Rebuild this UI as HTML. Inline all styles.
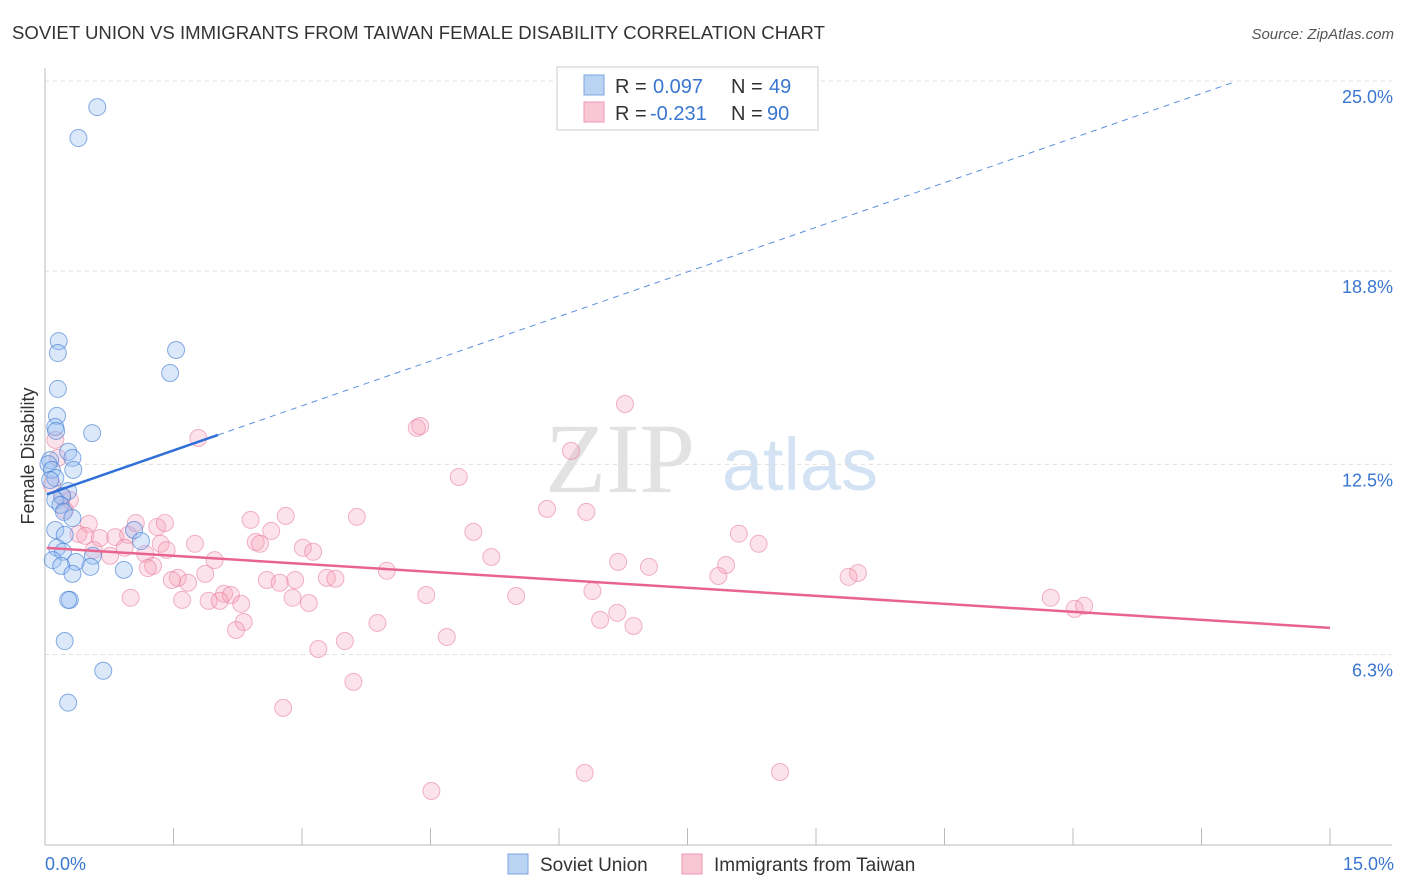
<!DOCTYPE html>
<html><head><meta charset="utf-8"><style>
body{margin:0;background:#fff;font-family:"Liberation Sans",sans-serif;}
svg{display:block}
</style></head><body>
<svg id="c" width="1406" height="892">
<text x="12" y="39" font-size="18" fill="#333" textLength="813" lengthAdjust="spacingAndGlyphs">SOVIET UNION VS IMMIGRANTS FROM TAIWAN FEMALE DISABILITY CORRELATION CHART</text>
<text x="1394" y="39" font-size="15" fill="#555" text-anchor="end" font-style="italic">Source: ZipAtlas.com</text>
<text x="0" y="0" transform="translate(34,456) rotate(-90)" font-size="18" fill="#333" text-anchor="middle">Female Disability</text>
<text x="620" y="492" font-size="100" fill="#e2e2e2" font-family="Liberation Serif,serif" text-anchor="middle">ZIP</text>
<text x="800" y="490" font-size="74" fill="#d3e3f4" text-anchor="middle">atlas</text>
<g id="grid"></g><g id="axes"></g><g id="pts"></g><g id="trend"></g>
<g>
<rect x="557" y="67" width="261" height="63" fill="#fff" stroke="#ccc"/>
<rect x="584" y="75" width="20" height="20" fill="#b9d3f3" stroke="#7aa6df"/>
<text x="615" y="93" font-size="20" fill="#333">R =</text>
<text x="653" y="93" font-size="20" fill="#3a76d0">0.097</text>
<text x="731" y="93" font-size="20" fill="#333">N =</text>
<text x="769" y="93" font-size="20" fill="#3a76d0">49</text>
<rect x="584" y="102" width="20" height="20" fill="#f8c6d5" stroke="#ee9ab2"/>
<text x="615" y="120" font-size="20" fill="#333">R =</text>
<text x="650" y="120" font-size="20" fill="#3a76d0">-0.231</text>
<text x="731" y="120" font-size="20" fill="#333">N =</text>
<text x="767" y="120" font-size="20" fill="#3a76d0">90</text>
</g>
<g><rect x="508" y="854" width="20" height="20" fill="#b9d3f3" stroke="#7aa6df"/><text x="540" y="871" font-size="19" fill="#333">Soviet Union</text></g>
<g><rect x="682" y="854" width="20" height="20" fill="#f8c6d5" stroke="#ee9ab2"/><text x="714" y="871" font-size="19" fill="#333">Immigrants from Taiwan</text></g>
</svg>
<script>
const yTicks=[25.0,18.8,12.5,6.3];
const yTickLabels=["25.0%","18.8%","12.5%","6.3%"];
const xEndLabels=["0.0%","15.0%"];
const sovietX=[.61,.39,.16,.15,1.53,1.46,.15,.14,.12,.13,.55,.27,.32,.06,.04,.08,.33,.12,.06,.27,.2,.12,.18,.22,.32,.12,.23,1.04,1.12,.14,.21,.56,.09,.36,.19,.53,.92,.32,.29,.27,.23,.68,.27];
const sovietY=[24.15,23.14,16.52,16.13,16.23,15.48,14.96,14.08,13.72,13.59,13.52,12.91,12.71,12.64,12.51,12.32,12.32,12.06,11.99,11.63,11.47,11.34,11.18,10.95,10.75,10.36,10.2,10.36,10.0,9.78,9.65,9.52,9.38,9.32,9.19,9.16,9.06,8.93,8.08,8.08,6.74,5.77,4.73];
const taiwanX=[1.79,6.77,4.34,4.38,6.14,4.83,5.86,6.32,3.64,2.81,2.40,2.64,5.0,8.10,8.33,3.01,3.13,5.21,2.46,2.51,6.69,7.05,7.95,7.86,3.99,3.29,3.39,2.92,2.59,2.74,1.87,1.55,1.48,1.67,9.49,9.38,4.45,5.50,6.39,11.74,12.02,12.13,6.68,6.48,6.87,2.09,2.17,1.91,2.04,2.29,2.89,3.08,1.00,1.60,2.32,2.23,3.88,3.50,3.19,4.69,3.60,2.78,6.30,8.58,4.51,.12,.15,.08,.2,.29,.23,.51,.39,.47,.64,.82,.97,1.06,1.31,1.40,1.35,1.42,1.17,1.75,1.98,.57,.76,1.26,.93,1.20];
const taiwanY=[13.36,14.47,13.69,13.75,12.94,12.09,11.05,10.95,10.79,10.82,10.69,10.33,10.30,10.24,9.91,9.78,9.65,9.48,9.97,9.91,9.32,9.16,9.22,8.86,9.03,8.80,8.77,8.73,8.73,8.64,8.93,8.80,8.73,8.64,8.96,8.83,8.24,8.21,8.37,8.15,7.79,7.89,7.66,7.43,7.23,8.28,8.24,8.05,8.05,7.95,8.15,7.98,8.15,8.08,7.36,7.10,7.33,6.74,6.48,6.87,5.41,4.56,2.44,2.47,1.85,13.3,12.71,11.83,11.44,11.34,11.01,10.56,10.23,10.17,10.10,10.13,10.20,10.59,10.46,10.59,9.91,9.71,9.58,9.91,9.38,9.71,9.52,9.19,9.78,9.12];
const sovietTrend=[11.5,0.97];
const taiwanTrend=[9.78,-0.174];
const NS="http://www.w3.org/2000/svg";
const sx=v=>45+v/15*1285;
const sy=v=>81+(25-v)*30.67;
function mk(tag,attrs,parent){const e=document.createElementNS(NS,tag);for(const k in attrs)e.setAttribute(k,attrs[k]);document.getElementById(parent).appendChild(e);return e;}
yTicks.forEach((t,i)=>{
 const g=mk('line',{x1:45,x2:1392,y1:sy(t),y2:sy(t),stroke:'#e0e0e0','stroke-dasharray':'4,4'},'grid');
 
 
 const l=mk('text',{x:1393,y:sy(t)+22,'font-size':18,fill:'#3a76d0','text-anchor':'end'},'grid');
 l.textContent=yTickLabels[i];
 
 
});
let a=mk('line',{x1:45,x2:45,y1:68,y2:845,stroke:'#bbb'},'axes');


a=mk('line',{x1:45,x2:1392,y1:845,y2:845,stroke:'#bbb'},'axes');


for(let i=1;i<=10;i++){const t=mk('line',{x1:sx(i*1.5),x2:sx(i*1.5),y1:828,y2:845,stroke:'#bbb'},'axes');
 
 }
[[0,'start',45],[15,'end',1394]].forEach((d,i)=>{const t=mk('text',{x:d[2],y:870,'font-size':18,fill:'#3a76d0','text-anchor':d[1]},'axes');t.textContent=xEndLabels[i];
 
 });
taiwanX.forEach((x,i)=>{const c=mk('circle',{cx:sx(x),cy:sy(taiwanY[i]),r:8.5,fill:'rgba(244,160,185,0.3)',stroke:'rgba(232,120,155,0.55)'},'pts');
 
 });
sovietX.forEach((x,i)=>{const c=mk('circle',{cx:sx(x),cy:sy(sovietY[i]),r:8.5,fill:'rgba(150,190,240,0.35)',stroke:'rgba(60,120,210,0.6)'},'pts');
 
 });
const sv=x=>sovietTrend[0]+sovietTrend[1]*x;
let t=mk('line',{x1:sx(0.02),y1:sy(sv(0.02)),x2:sx(2.02),y2:sy(sv(2.02)),stroke:'#2f6fd6','stroke-width':2.5},'trend');


t=mk('line',{x1:sx(2.02),y1:sy(sv(2.02)),x2:sx(13.9),y2:sy(sv(13.9)),stroke:'#5a8fdc','stroke-width':1,'stroke-dasharray':'6,5'},'trend');


const tv=x=>taiwanTrend[0]+taiwanTrend[1]*x;
t=mk('line',{x1:sx(0.02),y1:sy(tv(0.02)),x2:sx(15),y2:sy(tv(15)),stroke:'#e8648e','stroke-width':2.5},'trend');


</script>
</body></html>
